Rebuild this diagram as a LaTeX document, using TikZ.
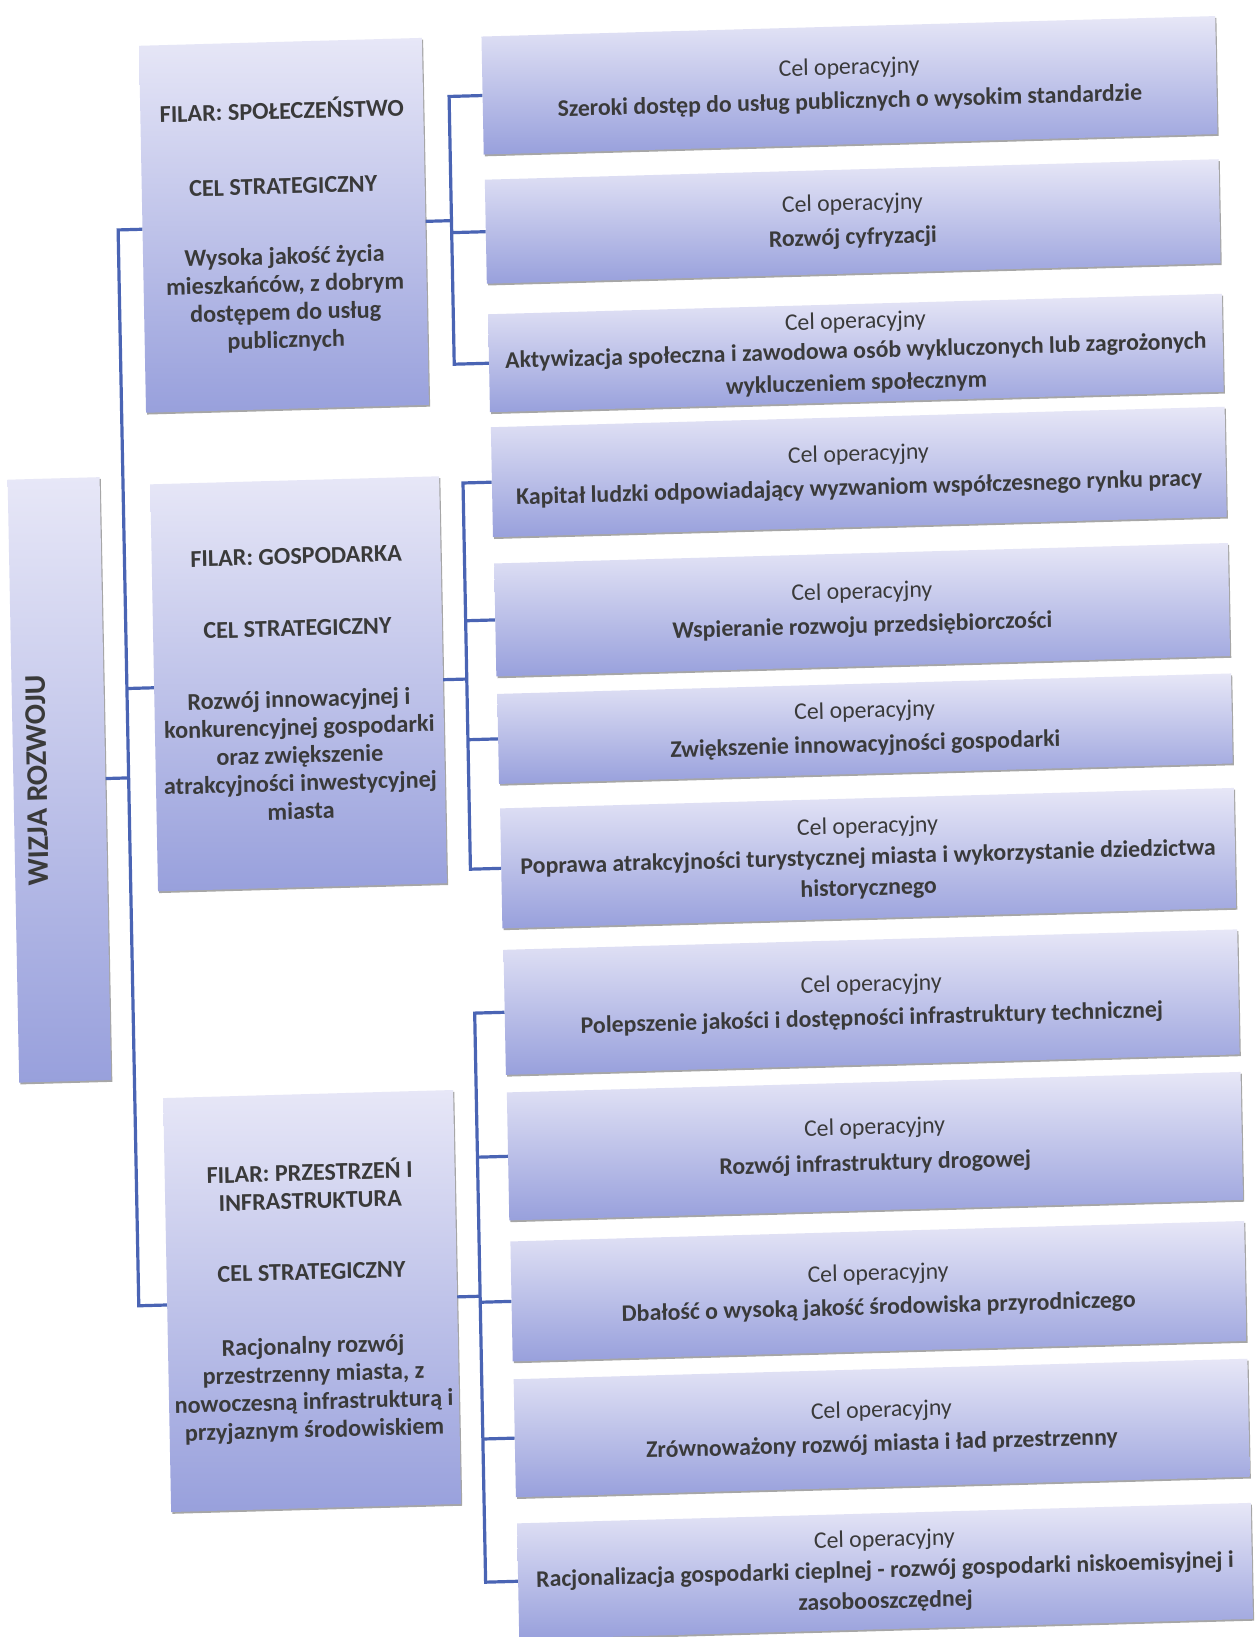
\documentclass[tikz,border=0pt]{standalone}
\usepackage{fontspec}
\setmainfont{Carlito}
\usetikzlibrary{shadows}
\definecolor{conn}{HTML}{4A64B4}
\definecolor{txt}{HTML}{3A3A3A}
\definecolor{boxtop}{HTML}{E7E7F7}
\definecolor{boxbot}{HTML}{98A0DC}
\begin{document}
\begin{tikzpicture}[x=1pt,y=-1pt,
  box/.style={rectangle, top color=boxtop, bottom color=boxbot, draw=none,
    transform shape, text=txt, align=center, inner sep=0pt,
    drop shadow={shadow xshift=1.2pt, shadow yshift=-1.8pt, opacity=0.35, fill=black}},
  pil/.style={box, font=\bfseries\fontsize{24.2pt}{28pt}\selectfont},
  op/.style={box, minimum width=734pt, font=\fontsize{23.8pt}{30pt}\selectfont},
  link/.style={draw=conn, line width=3.2pt, line join=miter}]
\fill[white] (0,0) rectangle (1258,1637);
\useasboundingbox (0,0) rectangle (1258,1637);
\begin{scope}[shift={(629,818.5)}]
\begin{scope}[cm={0.9996,0.0279,-0.0192,0.9998,(0,0)}]
\begin{scope}[shift={(-629,-818.5)}]
% root
\node[pil, minimum width=92pt, minimum height=603pt] (W) at (60.2,764) {};
\node[rotate=90, transform shape, text=txt, font=\bfseries\fontsize{30pt}{34pt}\selectfont] (Wt) at (38,764) {WIZJA ROZWOJU};
% pillars
\node[pil, minimum width=283pt, minimum height=367pt] (P1) at (295.4,215.9)
 {FILAR: SPOŁECZEŃSTWO\\[47pt]CEL STRATEGICZNY\\[42pt]Wysoka jakość życia\\mieszkańców, z dobrym\\dostępem do usług\\publicznych};
\node[pil, minimum width=289pt, minimum height=407pt] (P2) at (301.2,674.6)
 {FILAR: GOSPODARKA\\[44pt]CEL STRATEGICZNY\\[43pt]Rozwój innowacyjnej i\\konkurencyjnej gospodarki\\oraz zwiększenie\\atrakcyjności inwestycyjnej\\miasta};
\node[pil, minimum width=290pt, minimum height=414pt] (P3) at (302.9,1292)
 {FILAR: PRZESTRZEŃ I\\INFRASTRUKTURA\\[43pt]CEL STRATEGICZNY\\[46pt]Racjonalny rozwój\\przestrzenny miasta, z\\nowoczesną infrastrukturą i\\przyjaznym środowiskiem};
% operational goals
\node[op, minimum height=118pt] (O1) at (863.5,91.7) {Cel operacyjny\\[4pt]\textbf{Szeroki dostęp do usług publicznych o wysokim standardzie}};
\node[op, minimum height=104pt] (O2) at (864.1,227.9) {Cel operacyjny\\[4pt]\textbf{Rozwój cyfryzacji}};
\node[op, minimum height=98pt] (O3) at (864.8,359.5) {Cel operacyjny\\[0pt]\textbf{Aktywizacja społeczna i zawodowa osób wykluczonych lub zagrożonych}\\[2pt]\textbf{wykluczeniem społecznym}};
\node[op, minimum height=110pt] (O4) at (865.4,478.5) {Cel operacyjny\\[4pt]\textbf{Kapitał ludzki odpowiadający wyzwaniom współczesnego rynku pracy}};
\node[op, minimum height=113pt] (O5) at (866.1,616.3) {Cel operacyjny\\[4pt]\textbf{Wspieranie rozwoju przedsiębiorczości}};
\node[op, minimum height=90pt] (O6) at (866.7,735.3) {Cel operacyjny\\[4pt]\textbf{Zwiększenie innowacyjności gospodarki}};
\node[op, minimum height=120pt] (O7) at (867.3,864.8) {Cel operacyjny\\[1pt]\textbf{Poprawa atrakcyjności turystycznej miasta i wykorzystanie dziedzictwa}\\[1pt]\textbf{historycznego}};
\node[op, minimum height=125pt] (O8) at (868.0,1008.8) {Cel operacyjny\\[4pt]\textbf{Polepszenie jakości i dostępności infrastruktury technicznej}};
\node[op, minimum height=128pt] (O9) at (868.6,1152.9) {Cel operacyjny\\[6pt]\textbf{Rozwój infrastruktury drogowej}};
\node[op, minimum height=120pt] (O10) at (869.3,1298) {Cel operacyjny\\[4pt]\textbf{Dbałość o wysoką jakość środowiska przyrodniczego}};
\node[op, minimum height=118pt] (O11) at (869.9,1434.8) {Cel operacyjny\\[4pt]\textbf{Zrównoważony rozwój miasta i ład przestrzenny}};
\node[op, minimum height=116pt] (O12) at (870.5,1578) {Cel operacyjny\\[1pt]\textbf{Racjonalizacja gospodarki cieplnej - rozwój gospodarki niskoemisyjnej i}\\[1pt]\textbf{zasobooszczędnej}};
% junction coordinates
\coordinate (jw) at (129.5,764);
\coordinate (ja) at (129.5,215.9);
\coordinate (jb) at (129.5,674.6);
\coordinate (jc) at (129.5,1292);
\coordinate (kp1) at (463,215.9);
\coordinate (k1) at (463,91.7);
\coordinate (k2) at (463,227.9);
\coordinate (k3) at (463,359.5);
\coordinate (kp2) at (469.5,674.6);
\coordinate (k4) at (469.5,478.5);
\coordinate (k5) at (469.5,616.3);
\coordinate (k6) at (469.5,735.3);
\coordinate (k7) at (469.5,864.8);
\coordinate (kp3) at (471,1292);
\coordinate (k8) at (471,1008.8);
\coordinate (k9) at (471,1152.9);
\coordinate (k10) at (471,1298);
\coordinate (k11) at (471,1434.8);
\coordinate (k12) at (471,1578);
% connectors
\draw[link] (W.east) -- (jw);
\draw[link] (P1.west) -- (ja) -- (jc) -- (P3.west);
\draw[link] (jb) -- (P2.west);
\draw[link] (P1.east) -- (kp1);
\draw[link] (O1.west) -- (k1) -- (k3) -- (O3.west);
\draw[link] (k2) -- (O2.west);
\draw[link] (P2.east) -- (kp2);
\draw[link] (O4.west) -- (k4) -- (k7) -- (O7.west);
\draw[link] (k5) -- (O5.west);
\draw[link] (k6) -- (O6.west);
\draw[link] (P3.east) -- (kp3);
\draw[link] (O8.west) -- (k8) -- (k12) -- (O12.west);
\draw[link] (k9) -- (O9.west);
\draw[link] (k10) -- (O10.west);
\draw[link] (k11) -- (O11.west);
\end{scope}
\end{scope}
\end{scope}
\end{tikzpicture}
\end{document}
